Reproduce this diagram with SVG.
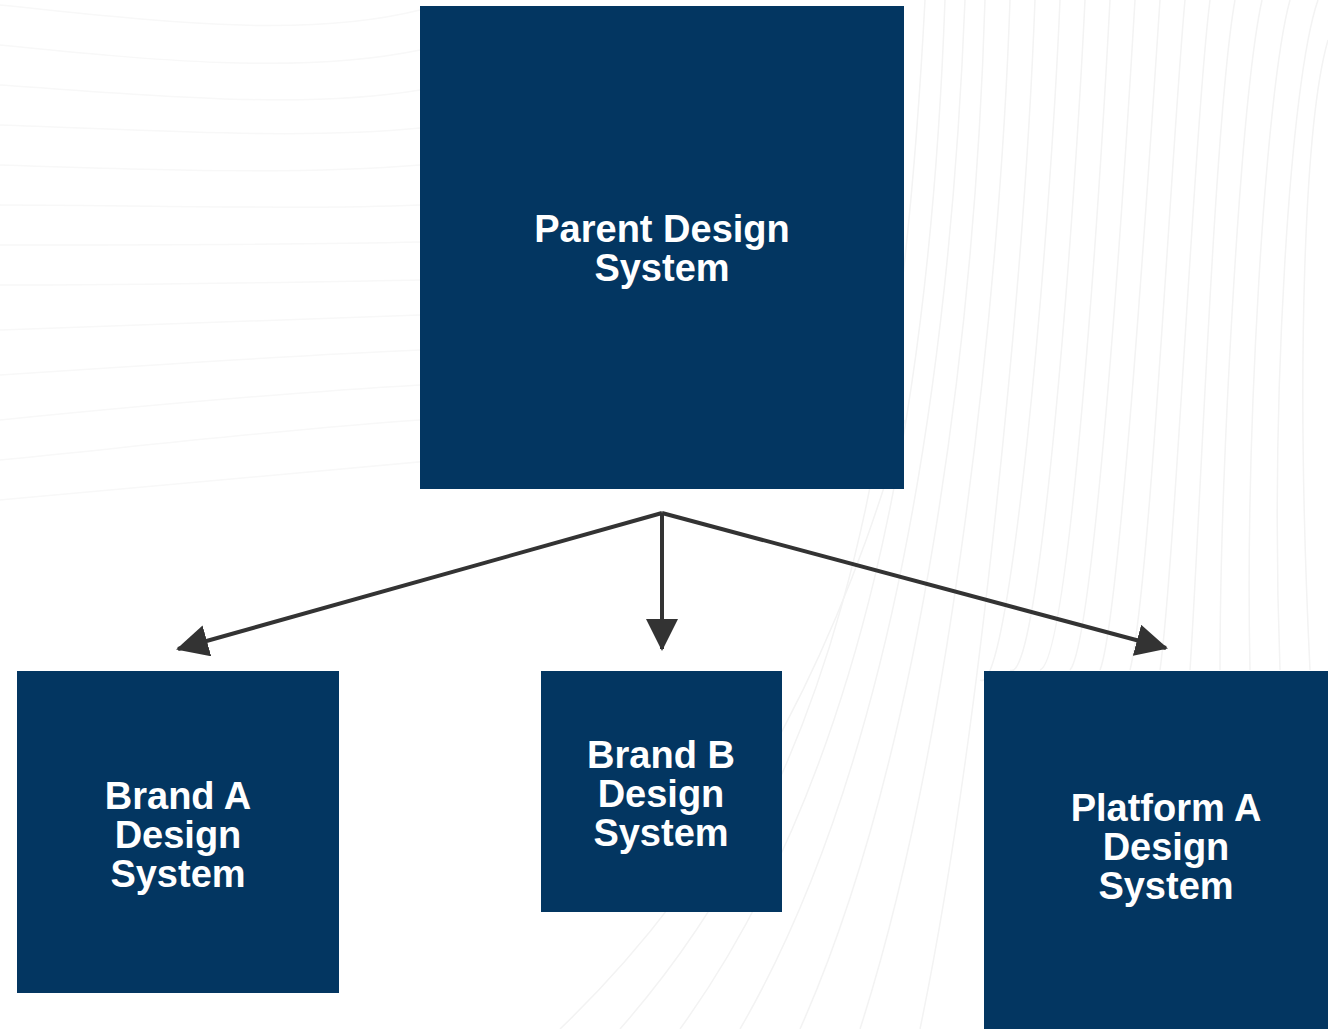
<svg xmlns="http://www.w3.org/2000/svg" width="1328" height="1029" viewBox="0 0 1328 1029">
  <style>
    .node { fill: #033661; }
    .label { font-family: "Liberation Sans", Arial, sans-serif; font-weight: bold; font-size: 38px; fill: #ffffff; text-anchor: middle; }
    .edge { stroke: #333333; stroke-width: 4; fill: none; }
    .bg { stroke: #f3f3f3; stroke-width: 1.5; fill: none; }
    .bgh { stroke: #f8f8f8; stroke-width: 1.5; fill: none; }
  </style>
  <defs>
    <marker id="arrow" markerWidth="8" markerHeight="8" refX="7.5" refY="4" orient="auto" markerUnits="strokeWidth">
      <path d="M0,0 L8,4 L0,8 Z" fill="#333333"/>
    </marker>
  </defs>
  <rect width="1328" height="1029" fill="#ffffff"/>
  <g id="background">
    <path class="bgh" d="M0,5 C150,20 300,40 420,10"/>
    <path class="bgh" d="M0,45 C150,60 300,75 420,50"/>
    <path class="bgh" d="M0,85 C150,95 300,110 420,90"/>
    <path class="bgh" d="M0,125 C150,130 300,140 420,128"/>
    <path class="bgh" d="M0,165 C150,170 300,175 420,165"/>
    <path class="bgh" d="M0,205 C150,205 300,210 420,205"/>
    <path class="bgh" d="M0,245 C150,245 300,245 420,242"/>
    <path class="bgh" d="M0,285 C150,285 300,282 420,280"/>
    <path class="bgh" d="M0,330 C150,325 300,318 420,315"/>
    <path class="bgh" d="M0,375 C150,365 300,355 420,350"/>
    <path class="bgh" d="M0,420 C150,405 300,392 420,385"/>
    <path class="bgh" d="M0,460 C150,445 300,428 420,420"/>
    <path class="bgh" d="M0,500 C200,480 400,465 660,440"/>
    <path class="bg" d="M560,1029 C800,800 880,500 905,420"/>
    <path class="bg" d="M620,1029 C830,790 900,480 925,0"/>
    <path class="bg" d="M680,1029 C860,780 930,420 945,0"/>
    <path class="bg" d="M740,1029 C890,770 950,380 965,0"/>
    <path class="bg" d="M800,1029 C920,760 975,340 985,0"/>
    <path class="bg" d="M860,1029 C950,750 1000,300 1010,0"/>
    <path class="bg" d="M920,1029 C980,740 1025,270 1035,0"/>
    <path class="bg" d="M980,680 C1010,700 1050,240 1060,0"/>
    <path class="bg" d="M1010,670 C1040,690 1075,210 1085,0"/>
    <path class="bg" d="M1040,670 C1070,660 1100,190 1110,0"/>
    <path class="bg" d="M1070,670 C1095,640 1125,170 1135,0"/>
    <path class="bg" d="M1100,670 C1120,620 1150,150 1160,0"/>
    <path class="bg" d="M1130,670 C1150,590 1172,140 1185,0"/>
    <path class="bg" d="M1160,670 C1175,560 1195,120 1210,0"/>
    <path class="bg" d="M1190,670 C1200,520 1215,110 1235,0"/>
    <path class="bg" d="M1220,670 C1220,480 1240,100 1262,0"/>
    <path class="bg" d="M1250,670 C1245,440 1265,90 1290,0"/>
    <path class="bg" d="M1280,670 C1270,400 1290,80 1318,0"/>
    <path class="bg" d="M1310,670 C1295,360 1305,120 1328,40"/>
  </g>
  <g id="parent">
    <rect class="node" x="420" y="6" width="484" height="483"/>
    <text class="label" x="662" y="242">Parent Design</text>
    <text class="label" x="662" y="281">System</text>
  </g>
  <g id="brand-a">
    <rect class="node" x="17" y="671" width="322" height="322"/>
    <text class="label" x="178" y="809">Brand A</text>
    <text class="label" x="178" y="848">Design</text>
    <text class="label" x="178" y="887">System</text>
  </g>
  <g id="brand-b">
    <rect class="node" x="541" y="671" width="241" height="241"/>
    <text class="label" x="661" y="768">Brand B</text>
    <text class="label" x="661" y="807">Design</text>
    <text class="label" x="661" y="846">System</text>
  </g>
  <g id="platform-a">
    <rect class="node" x="984" y="671" width="364" height="370"/>
    <text class="label" x="1166" y="821">Platform A</text>
    <text class="label" x="1166" y="860">Design</text>
    <text class="label" x="1166" y="899">System</text>
  </g>
  <g id="connectors">
    <line class="edge" x1="662" y1="513" x2="178" y2="649" marker-end="url(#arrow)"/>
    <line class="edge" x1="662" y1="513" x2="662" y2="649" marker-end="url(#arrow)"/>
    <line class="edge" x1="662" y1="513" x2="1166" y2="648" marker-end="url(#arrow)"/>
  </g>
</svg>
